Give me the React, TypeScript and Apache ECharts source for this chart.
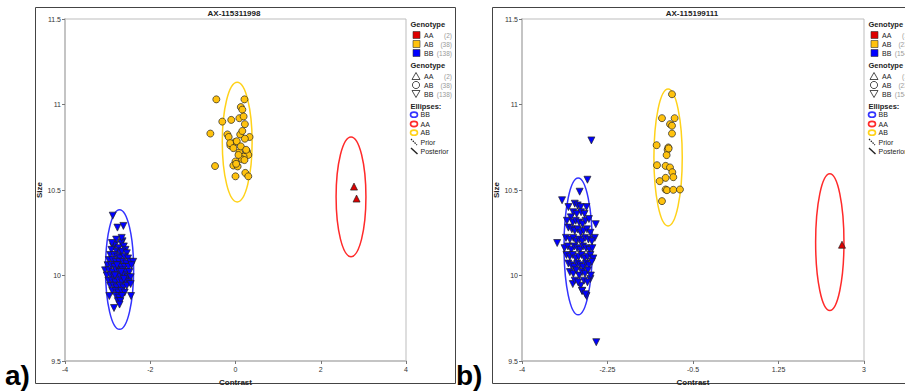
import React, { useEffect, useRef } from "react";
import * as echarts from "echarts";

// ---------- data ----------
const titleA = "AX-115311998";
const titleB = "AX-115199111";
const xTicksA = [-4, -2, 0, 2, 4];
const xTicksB = [-4, -2.25, -0.5, 1.25, 3];
const yRange = [9.5, 11.5];

const countsA = { AA: 2, AB: 38, BB: 138 };
const countsB = { AA: 1, AB: 23, BB: 154 };

// ellipses: [centerX, centerY, radiusX, radiusY]
const ellA_BB = [[-2.72, 10.035, 0.33, 0.35]];
const ellA_AB = [[0.04, 10.78, 0.35, 0.35]];
const ellA_AA = [[2.71, 10.46, 0.35, 0.35]];
const ellB_BB = [[-2.85, 10.17, 0.29, 0.4]];
const ellB_AB = [[-1.01, 10.69, 0.29, 0.4]];
const ellB_AA = [[2.3, 10.195, 0.29, 0.4]];

const aaA = [[2.78, 10.52], [2.84, 10.45]];
const abA = [
  [-0.45, 11.03], [0.21, 11.03], [0.125, 10.985], [0.16, 10.97], [-0.31, 10.9], [-0.1, 10.91],
  [0.09, 10.92], [0.19, 10.93], [0.22, 10.885], [-0.59, 10.83], [-0.19, 10.825], [-0.16, 10.81],
  [0.11, 10.825], [0.16, 10.845], [0.33, 10.81], [0.22, 10.8], [-0.01, 10.78], [-0.12, 10.76],
  [0.03, 10.785], [0.09, 10.72], [0.27, 10.725], [0.3, 10.705], [0.19, 10.695], [0.15, 10.68],
  [0.21, 10.675], [0.0, 10.667], [-0.05, 10.643], [0.05, 10.638], [-0.48, 10.64], [0.23, 10.6],
  [0.0, 10.58], [0.3, 10.58], [-0.125, 10.774], [-0.05, 10.745], [0.07, 10.705], [0.125, 10.755],
  [0.015, 10.653], [0.25, 10.735],
];
const bbA = [
  [-2.88, 10.35], [-2.77, 10.28], [-2.63, 10.29], [-2.65, 10.2], [-2.68, 10.19], [-2.87, 10.17],
  [-2.82, 10.18], [-2.74, 10.16], [-2.62, 10.17], [-2.58, 10.15], [-2.91, 10.15], [-2.79, 10.14],
  [-2.7, 10.13], [-2.66, 10.14], [-2.55, 10.13], [-2.94, 10.12], [-2.85, 10.12], [-2.77, 10.11],
  [-2.71, 10.1], [-2.61, 10.11], [-2.52, 10.1], [-2.97, 10.09], [-2.89, 10.09], [-2.81, 10.08],
  [-2.73, 10.08], [-2.64, 10.08], [-2.56, 10.07], [-2.47, 10.08], [-2.4, 10.08], [-3.0, 10.06],
  [-2.92, 10.06], [-2.84, 10.05], [-2.76, 10.06], [-2.69, 10.05], [-2.6, 10.05], [-2.51, 10.05],
  [-2.44, 10.06], [-3.06, 10.03], [-2.97, 10.03], [-2.88, 10.02], [-2.8, 10.03], [-2.72, 10.02],
  [-2.65, 10.03], [-2.57, 10.02], [-2.49, 10.02], [-3.02, 10.0], [-2.93, 10.0], [-2.85, 9.99],
  [-2.77, 10.0], [-2.7, 9.99], [-2.61, 10.0], [-2.53, 9.99], [-2.46, 9.99], [-2.98, 9.97],
  [-2.9, 9.97], [-2.82, 9.96], [-2.74, 9.97], [-2.66, 9.96], [-2.58, 9.97], [-2.5, 9.96],
  [-2.94, 9.94], [-2.86, 9.94], [-2.79, 9.93], [-2.71, 9.94], [-2.63, 9.93], [-2.55, 9.94],
  [-2.46, 9.95], [-2.89, 9.91], [-2.81, 9.91], [-2.75, 9.9], [-2.68, 9.91], [-2.6, 9.9],
  [-2.96, 9.88], [-2.8, 9.88], [-2.73, 9.87], [-2.66, 9.88], [-2.45, 9.88], [-2.76, 9.85],
  [-2.7, 9.85], [-2.85, 9.81], [-2.72, 9.83], [-2.67, 10.22], [-2.8, 10.21], [-2.9, 10.19],
  [-2.78, 10.06], [-2.68, 10.02], [-2.83, 10.0], [-2.62, 9.98],
];

const aaB = [[2.55, 10.18]];
const abB = [
  [-0.93, 11.06], [-1.135, 10.92], [-0.876, 10.92], [-0.97, 10.885], [-0.93, 10.876], [-0.93, 10.83],
  [-1.244, 10.762], [-1.005, 10.749], [-1.019, 10.735], [-1.04, 10.704], [-1.237, 10.645],
  [-1.06, 10.641], [-0.971, 10.632], [-0.924, 10.604], [-0.903, 10.575], [-1.06, 10.571],
  [-1.183, 10.552], [-1.06, 10.503], [-1.033, 10.499], [-0.903, 10.501], [-0.767, 10.503],
  [-1.135, 10.435], [-0.999, 10.743],
];
const bbB = [
  [-2.58, 10.79], [-2.48, 9.61], [-2.66, 10.56], [-2.82, 10.49], [-3.18, 10.44], [-3.28, 10.19],
  [-2.49, 10.3], [-2.51, 10.22], [-2.68, 10.4], [-2.68, 9.88], [-2.77, 9.91], [-2.96, 9.95],
  [-2.8, 9.94], [-2.6, 9.98],
  [-2.92, 10.42], [-2.86, 10.41], [-2.8, 10.4], [-3.05, 10.4],
  [-2.95, 10.37], [-2.88, 10.36], [-2.79, 10.37], [-2.72, 10.36], [-3.0, 10.34],
  [-3.08, 10.32], [-2.96, 10.31], [-2.9, 10.32], [-2.83, 10.31], [-2.76, 10.3], [-2.7, 10.32], [-2.63, 10.33],
  [-3.05, 10.28], [-2.98, 10.27], [-2.92, 10.26], [-2.86, 10.27], [-2.8, 10.25], [-2.74, 10.26], [-2.67, 10.27], [-2.6, 10.25],
  [-3.1, 10.22], [-3.02, 10.21], [-2.95, 10.22], [-2.89, 10.2], [-2.83, 10.21], [-2.77, 10.2], [-2.71, 10.22], [-2.64, 10.21], [-2.57, 10.2],
  [-3.13, 10.16], [-3.06, 10.17], [-2.99, 10.15], [-2.93, 10.17], [-2.87, 10.16], [-2.81, 10.15], [-2.75, 10.17], [-2.69, 10.16], [-2.62, 10.15], [-2.56, 10.16],
  [-3.09, 10.12], [-3.02, 10.11], [-2.96, 10.12], [-2.9, 10.1], [-2.84, 10.11], [-2.78, 10.12], [-2.72, 10.1], [-2.66, 10.11], [-2.6, 10.12], [-2.54, 10.1],
  [-3.05, 10.07], [-2.99, 10.06], [-2.93, 10.05], [-2.87, 10.07], [-2.81, 10.06], [-2.75, 10.05], [-2.69, 10.07], [-2.63, 10.06], [-2.57, 10.08],
  [-3.02, 10.02], [-2.95, 10.01], [-2.89, 10.03], [-2.83, 10.0], [-2.77, 10.02], [-2.71, 10.01], [-2.65, 10.03], [-2.59, 10.0],
  [-2.92, 9.97], [-2.85, 9.96], [-2.73, 9.97], [-2.66, 9.96],
  [-2.77, 9.91], [-2.7, 9.89],
];

// ---------- style ----------
const RED = "#dd0000";
const YEL = "#ffc20e";
const BLU = "#0000ff";
const ELL_RED = "#ff2a2a";
const ELL_YEL = "#ffd21a";
const ELL_BLU = "#3333ff";
const FONT = "'Liberation Sans', Arial, sans-serif";

function ellipseSeries(data: number[][], color: string, axis: number) {
  return {
    type: "custom",
    xAxisIndex: axis,
    yAxisIndex: axis,
    encode: { x: 0, y: 1 },
    silent: true,
    z: 1,
    renderItem: (params: any, api: any) => {
      const c = api.coord([api.value(0), api.value(1)]);
      const s = api.size([api.value(2), api.value(3)]);
      return {
        type: "ellipse",
        shape: { cx: c[0], cy: c[1], rx: s[0], ry: s[1] },
        style: { fill: "none", stroke: color, lineWidth: 1.5 },
      };
    },
    data,
  };
}

function scatterSeries(data: number[][], color: string, symbol: string, rotate: number, axis: number) {
  return {
    type: "scatter",
    xAxisIndex: axis,
    yAxisIndex: axis,
    symbol,
    symbolRotate: rotate,
    symbolSize: 7,
    z: 3,
    itemStyle: { color, borderColor: "#222", borderWidth: 0.7, opacity: 1 },
    data,
  };
}

function txt(x: number, y: number, text: string, opts: any = {}) {
  return {
    type: "text",
    x,
    y,
    silent: true,
    style: {
      text,
      fill: opts.fill || "#222",
      font: `${opts.bold ? "bold " : ""}${opts.size || 7}px ${FONT}`,
      textAlign: opts.align || "left",
      textVerticalAlign: "middle",
    },
  };
}

function legend(ox: number, counts: { AA: number; AB: number; BB: number }) {
  const els: any[] = [];
  const sq = [
    ["AA", RED, 35],
    ["AB", YEL, 44],
    ["BB", BLU, 53],
  ] as [string, string, number][];
  els.push(txt(ox + 0.5, 24, "Genotype", { bold: true, size: 7.5 }));
  sq.forEach(([k, col, y]) => {
    els.push({ type: "rect", silent: true, shape: { x: ox + 3, y: y - 3.5, width: 7, height: 7 }, style: { fill: col, stroke: "#333", lineWidth: 0.6 } });
    els.push(txt(ox + 14, y, k));
    els.push(txt(ox + 42, y, `(${(counts as any)[k]})`, { fill: "#9a9a9a", align: "right", size: 6.5 }));
  });
  els.push(txt(ox + 0.5, 65.5, "Genotype", { bold: true, size: 7.5 }));
  const cx = ox + 6;
  els.push({ type: "polygon", silent: true, shape: { points: [[cx, 72.5], [cx - 4, 79.5], [cx + 4, 79.5]] }, style: { fill: "none", stroke: "#222", lineWidth: 0.8 } });
  els.push({ type: "circle", silent: true, shape: { cx, cy: 85, r: 3.6 }, style: { fill: "none", stroke: "#222", lineWidth: 0.8 } });
  els.push({ type: "polygon", silent: true, shape: { points: [[cx - 4, 90.5], [cx + 4, 90.5], [cx, 97.5]] }, style: { fill: "none", stroke: "#222", lineWidth: 0.8 } });
  (["AA", "AB", "BB"] as const).forEach((k, i) => {
    const y = 76 + i * 9;
    els.push(txt(ox + 14, y, k));
    els.push(txt(ox + 42, y, `(${counts[k]})`, { fill: "#9a9a9a", align: "right", size: 6.5 }));
  });
  els.push(txt(ox + 0.5, 106, "Ellipses:", { bold: true, size: 7.5 }));
  const rings = [
    ["BB", ELL_BLU, 114.7],
    ["AA", ELL_RED, 124],
    ["AB", ELL_YEL, 132.7],
  ] as [string, string, number][];
  rings.forEach(([k, col, y]) => {
    els.push({ type: "ellipse", silent: true, shape: { cx: ox + 4, cy: y, rx: 3.5, ry: 2.6 }, style: { fill: "none", stroke: col, lineWidth: 1.6 } });
    els.push(txt(ox + 10.5, y, k));
  });
  els.push({ type: "line", silent: true, shape: { x1: ox + 1, y1: 139, x2: ox + 7, y2: 145 }, style: { stroke: "#222", lineWidth: 1.2, lineDash: [1.5, 1] } });
  els.push(txt(ox + 10.5, 142, "Prior"));
  els.push({ type: "line", silent: true, shape: { x1: ox + 1, y1: 148, x2: ox + 7.5, y2: 154 }, style: { stroke: "#222", lineWidth: 1.4 } });
  els.push(txt(ox + 10.5, 151, "Posterior"));
  return els;
}

function xAxisDef(ticks: number[], grid: number) {
  const interval = ticks[1] - ticks[0];
  return {
    type: "value",
    gridIndex: grid,
    min: ticks[0],
    max: ticks[ticks.length - 1],
    interval,
    name: "Contrast",
    nameLocation: "middle",
    nameGap: 17,
    nameTextStyle: { fontFamily: FONT, fontWeight: "bold", fontSize: 8, color: "#222" },
    axisLine: { show: true, onZero: false, lineStyle: { color: "#c4c4c4", width: 2 } },
    axisTick: { show: true, length: 3, lineStyle: { color: "#777" } },
    axisLabel: {
      fontFamily: FONT,
      fontSize: 7,
      color: "#333",
      margin: 5,
      formatter: (v: number) => {
        const t = ticks.find((k) => Math.abs(k - v) < 1e-6);
        return t === undefined ? "" : String(t);
      },
    },
    splitLine: { show: false },
  };
}

function yAxisDef(grid: number) {
  return {
    type: "value",
    gridIndex: grid,
    min: yRange[0],
    max: yRange[1],
    interval: 0.5,
    name: "Size",
    nameLocation: "middle",
    nameGap: 21,
    nameRotate: 90,
    nameTextStyle: { fontFamily: FONT, fontWeight: "bold", fontSize: 8, color: "#222" },
    axisLine: { show: true, onZero: false, lineStyle: { color: "#c4c4c4", width: 2 } },
    axisTick: { show: true, length: 3, lineStyle: { color: "#777" } },
    axisLabel: { fontFamily: FONT, fontSize: 7, color: "#333", margin: 4 },
    splitLine: { show: false },
  };
}

export default function App() {
  const ref = useRef<HTMLDivElement>(null);
  useEffect(() => {
    if (!ref.current) return;
    const chart = echarts.init(ref.current, undefined, { renderer: "svg" });
    chart.setOption({
      animation: false,
      backgroundColor: "#ffffff",
      grid: [
        { left: 65, top: 19, width: 341, height: 342, show: true, borderColor: "#bdbdbd", borderWidth: 1, backgroundColor: "#fff" },
        { left: 522, top: 19, width: 342, height: 342, show: true, borderColor: "#bdbdbd", borderWidth: 1, backgroundColor: "#fff" },
      ],
      xAxis: [xAxisDef(xTicksA, 0), xAxisDef(xTicksB, 1)],
      yAxis: [yAxisDef(0), yAxisDef(1)],
      series: [
        ellipseSeries(ellA_BB, ELL_BLU, 0),
        ellipseSeries(ellA_AA, ELL_RED, 0),
        ellipseSeries(ellA_AB, ELL_YEL, 0),
        scatterSeries(bbA, BLU, "triangle", 180, 0),
        scatterSeries(abA, YEL, "circle", 0, 0),
        scatterSeries(aaA, RED, "triangle", 0, 0),
        ellipseSeries(ellB_BB, ELL_BLU, 1),
        ellipseSeries(ellB_AA, ELL_RED, 1),
        ellipseSeries(ellB_AB, ELL_YEL, 1),
        scatterSeries(bbB, BLU, "triangle", 180, 1),
        scatterSeries(abB, YEL, "circle", 0, 1),
        scatterSeries(aaB, RED, "triangle", 0, 1),
      ],
      graphic: [
        { type: "rect", silent: true, z: -10, shape: { x: 35.5, y: 7.5, width: 420, height: 376 }, style: { fill: "none", stroke: "#444", lineWidth: 1 } },
        { type: "rect", silent: true, z: -10, shape: { x: 492.5, y: 7.5, width: 500, height: 376 }, style: { fill: "none", stroke: "#444", lineWidth: 1 } },
        txt(234, 13, titleA, { bold: true, size: 8, align: "center" }),
        txt(692, 13, titleB, { bold: true, size: 8, align: "center" }),
        ...legend(410, countsA),
        ...legend(868, countsB),
        {
          type: "text",
          x: 5,
          y: 389,
          silent: true,
          style: { text: "a)", fill: "#000", font: `bold 28px ${FONT}`, textAlign: "left", textVerticalAlign: "bottom" },
        },
        {
          type: "text",
          x: 456,
          y: 389,
          silent: true,
          style: { text: "b)", fill: "#000", font: `bold 28px ${FONT}`, textAlign: "left", textVerticalAlign: "bottom" },
        },
      ],
    });
    return () => chart.dispose();
  }, []);
  return <div ref={ref} style={{ position: "absolute", left: 0, top: 0, width: 905, height: 392 }} />;
}
